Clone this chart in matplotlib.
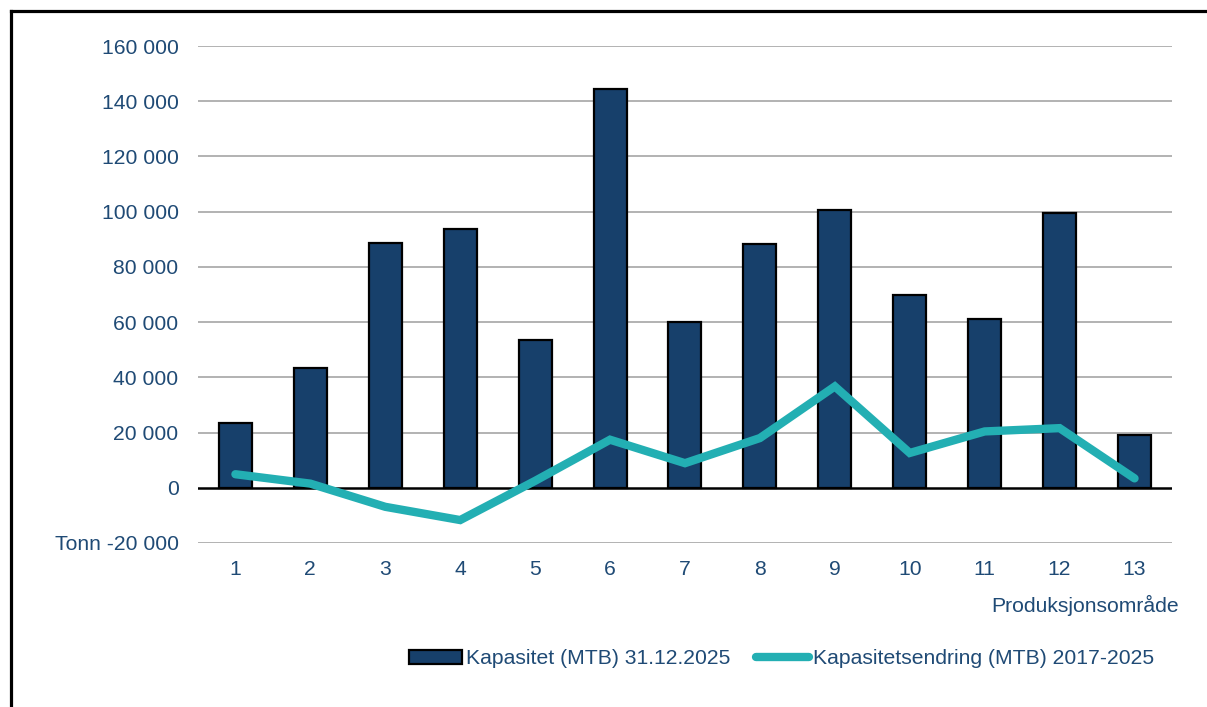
import matplotlib.pyplot as plt
from matplotlib.lines import Line2D
from matplotlib.patches import Patch

plt.rcParams["font.family"] = ["Liberation Sans", "DejaVu Sans"]

areas = ["1", "2", "3", "4", "5", "6", "7", "8", "9", "10", "11", "12", "13"]
capacity_2025 = [23500, 43200, 88700, 93700, 53400, 144600, 60100,
                 88200, 100700, 70000, 61300, 99500, 19200]
change_2017_2025 = [4900, 1500, -6900, -11700, 2500, 17400, 8900,
                    18000, 36700, 12600, 20400, 21600, 3400]
y_ticks = [-20000, 0, 20000, 40000, 60000, 80000, 100000, 120000, 140000, 160000]

BAR_COLOR = "#17406B"
LINE_COLOR = "#23AFB3"
TEXT_COLOR = "#1F4A75"
GRID_COLOR = "#A6A6A6"
FS = 15.2


def fmt(v):
    s = f"{v:,}".replace(",", " ")
    return "Tonn " + s if v == y_ticks[0] else s


fig = plt.figure(figsize=(12.07, 7.07), dpi=100)
ax = fig.add_axes([0.164, 0.232, 0.807, 0.7029])

x = list(range(len(areas)))
ax.bar(x, capacity_2025, width=0.44, color=BAR_COLOR, edgecolor="black",
       linewidth=1.6, zorder=3)
ax.plot(x, change_2017_2025, color=LINE_COLOR, linewidth=6,
        solid_capstyle="round", solid_joinstyle="miter", zorder=4)

ax.set_xlim(-0.5, len(areas) - 0.5)
ax.set_ylim(-20000, 160000)
ax.set_yticks(y_ticks)
ax.set_yticklabels([fmt(v) for v in y_ticks])
ax.set_xticks(x)
ax.set_xticklabels(areas)
ax.tick_params(axis="both", length=0, labelsize=FS, colors=TEXT_COLOR)
ax.tick_params(axis="y", pad=14)
ax.tick_params(axis="x", pad=12)

for v in y_ticks:
    if v == 0:
        ax.axhline(0, color="black", linewidth=1.8, zorder=3.5)
    else:
        ax.axhline(v, color=GRID_COLOR, linewidth=1.2, zorder=1)

for side in ["top", "right", "left", "bottom"]:
    ax.spines[side].set_visible(False)

fig.text(0.977, 0.143, "Produksjonsområde", ha="right", va="center",
         fontsize=FS, color=TEXT_COLOR)

handles = [
    Patch(facecolor=BAR_COLOR, edgecolor="black", linewidth=1.6),
    Line2D([0], [0], color=LINE_COLOR, linewidth=6, solid_capstyle="round"),
]
labels = ["Kapasitet (MTB) 31.12.2025", "Kapasitetsendring (MTB) 2017-2025"]
leg = fig.legend(handles, labels, loc="center", bbox_to_anchor=(0.6475, 0.068),
                 ncol=2, frameon=False, fontsize=FS, handlelength=2.5,
                 handletextpad=0.2, columnspacing=1.2, borderaxespad=0)
for t in leg.get_texts():
    t.set_color(TEXT_COLOR)

# frame lines along top and left edge
fig.add_artist(Line2D([11 / 1207, 11 / 1207], [0, 1 - 11 / 707],
                      transform=fig.transFigure, color="black", linewidth=2.3,
                      solid_capstyle="projecting"))
fig.add_artist(Line2D([11 / 1207, 1], [1 - 11 / 707, 1 - 11 / 707],
                      transform=fig.transFigure, color="black", linewidth=2.3,
                      solid_capstyle="projecting"))

fig.savefig("out.png", dpi=100)
